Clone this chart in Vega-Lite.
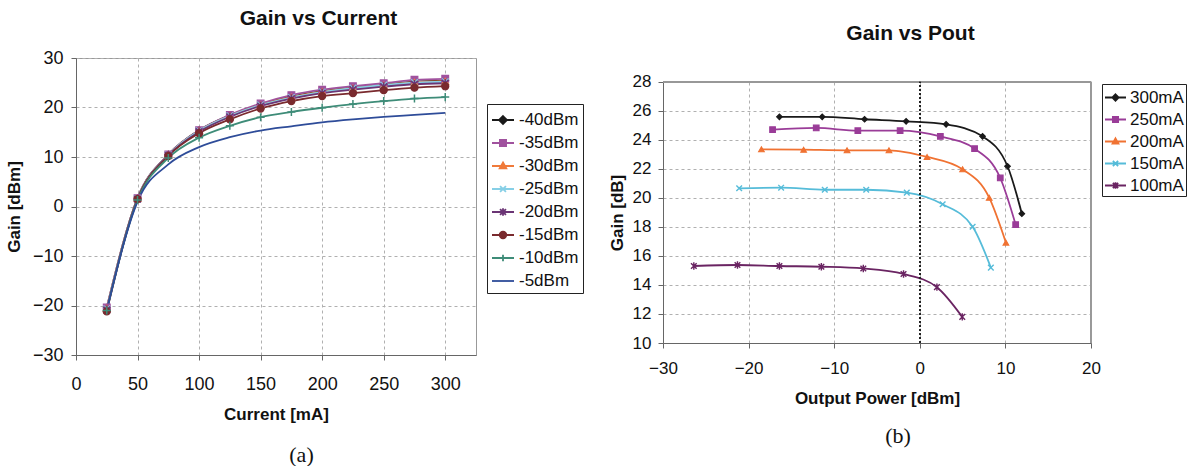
{
  "$schema": "https://vega.github.io/schema/vega-lite/v6.json",
  "background": "white",
  "padding": {"left": 4, "top": 7, "right": 0, "bottom": 0},
  "spacing": 24,
  "resolve": {"scale": {"color": "independent"}, "legend": {"color": "independent"}},
  "config": {
    "font": "Liberation Sans",
    "view": {"stroke": "#999", "strokeWidth": 1},
    "axis": {
      "labelFont": "Liberation Sans", "labelFontSize": 18, "labelColor": "#111", "labelFlush": false, "labelOverlap": false,
      "titleFont": "Liberation Sans", "titleFontSize": 17, "titleFontWeight": "bold", "titleColor": "#111",
      "gridColor": "#b0b0b0", "gridDash": [3, 3], "gridWidth": 1,
      "domainColor": "#666", "tickColor": "#666", "tickSize": 5
    },
    "legend": {"labelFont": "Liberation Sans", "labelFontSize": 17, "labelColor": "#111"}
  },
  "datasets": {
    "gvc": [
      {"current": 25, "series": "-40dBm", "gain": -20.5}, {"current": 50, "series": "-40dBm", "gain": 1.7}, {"current": 75, "series": "-40dBm", "gain": 10.5}, {"current": 100, "series": "-40dBm", "gain": 15.4}, {"current": 125, "series": "-40dBm", "gain": 18.4}, {"current": 150, "series": "-40dBm", "gain": 20.6}, {"current": 175, "series": "-40dBm", "gain": 22.2}, {"current": 200, "series": "-40dBm", "gain": 23.3}, {"current": 225, "series": "-40dBm", "gain": 24.0}, {"current": 250, "series": "-40dBm", "gain": 24.6}, {"current": 275, "series": "-40dBm", "gain": 25.2}, {"current": 300, "series": "-40dBm", "gain": 25.4},
      {"current": 25, "series": "-35dBm", "gain": -20.4}, {"current": 50, "series": "-35dBm", "gain": 1.7}, {"current": 75, "series": "-35dBm", "gain": 10.5}, {"current": 100, "series": "-35dBm", "gain": 15.4}, {"current": 125, "series": "-35dBm", "gain": 18.5}, {"current": 150, "series": "-35dBm", "gain": 20.8}, {"current": 175, "series": "-35dBm", "gain": 22.5}, {"current": 200, "series": "-35dBm", "gain": 23.6}, {"current": 225, "series": "-35dBm", "gain": 24.3}, {"current": 250, "series": "-35dBm", "gain": 24.9}, {"current": 275, "series": "-35dBm", "gain": 25.6}, {"current": 300, "series": "-35dBm", "gain": 25.8},
      {"current": 25, "series": "-30dBm", "gain": -20.6}, {"current": 50, "series": "-30dBm", "gain": 1.6}, {"current": 75, "series": "-30dBm", "gain": 10.4}, {"current": 100, "series": "-30dBm", "gain": 15.3}, {"current": 125, "series": "-30dBm", "gain": 18.3}, {"current": 150, "series": "-30dBm", "gain": 20.5}, {"current": 175, "series": "-30dBm", "gain": 22.1}, {"current": 200, "series": "-30dBm", "gain": 23.2}, {"current": 225, "series": "-30dBm", "gain": 23.9}, {"current": 250, "series": "-30dBm", "gain": 24.5}, {"current": 275, "series": "-30dBm", "gain": 25.1}, {"current": 300, "series": "-30dBm", "gain": 25.3},
      {"current": 25, "series": "-25dBm", "gain": -20.7}, {"current": 50, "series": "-25dBm", "gain": 1.6}, {"current": 75, "series": "-25dBm", "gain": 10.4}, {"current": 100, "series": "-25dBm", "gain": 15.3}, {"current": 125, "series": "-25dBm", "gain": 18.3}, {"current": 150, "series": "-25dBm", "gain": 20.5}, {"current": 175, "series": "-25dBm", "gain": 22.0}, {"current": 200, "series": "-25dBm", "gain": 23.1}, {"current": 225, "series": "-25dBm", "gain": 23.9}, {"current": 250, "series": "-25dBm", "gain": 24.5}, {"current": 275, "series": "-25dBm", "gain": 25.0}, {"current": 300, "series": "-25dBm", "gain": 25.2},
      {"current": 25, "series": "-20dBm", "gain": -20.9}, {"current": 50, "series": "-20dBm", "gain": 1.5}, {"current": 75, "series": "-20dBm", "gain": 10.3}, {"current": 100, "series": "-20dBm", "gain": 15.1}, {"current": 125, "series": "-20dBm", "gain": 18.1}, {"current": 150, "series": "-20dBm", "gain": 20.3}, {"current": 175, "series": "-20dBm", "gain": 21.8}, {"current": 200, "series": "-20dBm", "gain": 22.9}, {"current": 225, "series": "-20dBm", "gain": 23.6}, {"current": 250, "series": "-20dBm", "gain": 24.2}, {"current": 275, "series": "-20dBm", "gain": 24.7}, {"current": 300, "series": "-20dBm", "gain": 24.9},
      {"current": 25, "series": "-15dBm", "gain": -21.2}, {"current": 50, "series": "-15dBm", "gain": 1.5}, {"current": 75, "series": "-15dBm", "gain": 10.2}, {"current": 100, "series": "-15dBm", "gain": 14.8}, {"current": 125, "series": "-15dBm", "gain": 17.6}, {"current": 150, "series": "-15dBm", "gain": 19.8}, {"current": 175, "series": "-15dBm", "gain": 21.3}, {"current": 200, "series": "-15dBm", "gain": 22.3}, {"current": 225, "series": "-15dBm", "gain": 22.9}, {"current": 250, "series": "-15dBm", "gain": 23.5}, {"current": 275, "series": "-15dBm", "gain": 24.0}, {"current": 300, "series": "-15dBm", "gain": 24.3},
      {"current": 25, "series": "-10dBm", "gain": -21.0}, {"current": 50, "series": "-10dBm", "gain": 1.3}, {"current": 75, "series": "-10dBm", "gain": 9.8}, {"current": 100, "series": "-10dBm", "gain": 13.9}, {"current": 125, "series": "-10dBm", "gain": 16.3}, {"current": 150, "series": "-10dBm", "gain": 18.05}, {"current": 175, "series": "-10dBm", "gain": 19.1}, {"current": 200, "series": "-10dBm", "gain": 19.95}, {"current": 225, "series": "-10dBm", "gain": 20.7}, {"current": 250, "series": "-10dBm", "gain": 21.3}, {"current": 275, "series": "-10dBm", "gain": 21.8}, {"current": 300, "series": "-10dBm", "gain": 22.1},
      {"current": 25, "series": "-5dBm", "gain": -21.0}, {"current": 50, "series": "-5dBm", "gain": 1.0}, {"current": 75, "series": "-5dBm", "gain": 8.5}, {"current": 100, "series": "-5dBm", "gain": 12.0}, {"current": 125, "series": "-5dBm", "gain": 14.0}, {"current": 150, "series": "-5dBm", "gain": 15.35}, {"current": 175, "series": "-5dBm", "gain": 16.2}, {"current": 200, "series": "-5dBm", "gain": 17.0}, {"current": 225, "series": "-5dBm", "gain": 17.6}, {"current": 250, "series": "-5dBm", "gain": 18.1}, {"current": 275, "series": "-5dBm", "gain": 18.5}, {"current": 300, "series": "-5dBm", "gain": 18.9}
    ],
    "gvp": [
      {"pout": -16.4, "series": "300mA", "gain": 25.6}, {"pout": -11.4, "series": "300mA", "gain": 25.6}, {"pout": -6.45, "series": "300mA", "gain": 25.43}, {"pout": -1.6, "series": "300mA", "gain": 25.29}, {"pout": 3.07, "series": "300mA", "gain": 25.08}, {"pout": 7.33, "series": "300mA", "gain": 24.25}, {"pout": 10.25, "series": "300mA", "gain": 22.19}, {"pout": 11.92, "series": "300mA", "gain": 18.92},
      {"pout": -17.2, "series": "250mA", "gain": 24.71}, {"pout": -12.1, "series": "250mA", "gain": 24.83}, {"pout": -7.24, "series": "250mA", "gain": 24.64}, {"pout": -2.3, "series": "250mA", "gain": 24.64}, {"pout": 2.4, "series": "250mA", "gain": 24.25}, {"pout": 6.4, "series": "250mA", "gain": 23.4}, {"pout": 9.4, "series": "250mA", "gain": 21.38}, {"pout": 11.2, "series": "250mA", "gain": 18.16},
      {"pout": -18.5, "series": "200mA", "gain": 23.36}, {"pout": -13.57, "series": "200mA", "gain": 23.33}, {"pout": -8.5, "series": "200mA", "gain": 23.29}, {"pout": -3.6, "series": "200mA", "gain": 23.29}, {"pout": 0.85, "series": "200mA", "gain": 22.83}, {"pout": 5.0, "series": "200mA", "gain": 21.98}, {"pout": 8.11, "series": "200mA", "gain": 20.02}, {"pout": 10.06, "series": "200mA", "gain": 16.92},
      {"pout": -21.1, "series": "150mA", "gain": 20.67}, {"pout": -16.2, "series": "150mA", "gain": 20.71}, {"pout": -11.1, "series": "150mA", "gain": 20.57}, {"pout": -6.26, "series": "150mA", "gain": 20.57}, {"pout": -1.52, "series": "150mA", "gain": 20.37}, {"pout": 2.67, "series": "150mA", "gain": 19.57}, {"pout": 6.17, "series": "150mA", "gain": 18.02}, {"pout": 8.3, "series": "150mA", "gain": 15.2},
      {"pout": -26.4, "series": "100mA", "gain": 15.31}, {"pout": -21.3, "series": "100mA", "gain": 15.38}, {"pout": -16.4, "series": "100mA", "gain": 15.31}, {"pout": -11.5, "series": "100mA", "gain": 15.26}, {"pout": -6.6, "series": "100mA", "gain": 15.14}, {"pout": -1.9, "series": "100mA", "gain": 14.76}, {"pout": 2.0, "series": "100mA", "gain": 13.85}, {"pout": 4.96, "series": "100mA", "gain": 11.8}
    ]
  },
  "hconcat": [
    {
      "width": 400,
      "height": 297,
      "data": {"name": "gvc"},
      "resolve": {"scale": {"x": "independent", "y": "independent"}},
      "layer": [
        {
          "layer": [
            {
              "mark": {"type": "line", "interpolate": "monotone", "strokeWidth": 1.8},
              "encoding": {
                "x": {"field": "current", "type": "quantitative", "scale": {"domain": [0, 325], "nice": false}, "axis": {"values": [0, 50, 100, 150, 200, 250, 300], "title": "Current [mA]", "labelPadding": 15, "titleY": 59, "titleBaseline": "middle"}},
                "y": {"field": "gain", "type": "quantitative", "scale": {"domain": [-30, 30], "nice": false}, "axis": {"values": [-30, -20, -10, 0, 10, 20, 30], "title": "Gain [dBm]", "labelPadding": 8, "titleX": -62, "titleBaseline": "middle"}},
                "color": {
                  "field": "series", "type": "nominal",
                  "scale": {"domain": ["-40dBm", "-35dBm", "-30dBm", "-25dBm", "-20dBm", "-15dBm", "-10dBm", "-5dBm"], "range": ["#1a1a1a", "#a0529e", "#f07a3a", "#86cfe6", "#6b3575", "#7a2a2e", "#3e8c78", "#2e4c99"]},
                  "legend": {
                    "title": null, "orient": "none", "legendX": 411, "legendY": 46,
                    "strokeColor": "#222", "fillColor": "white", "padding": 4,
                    "symbolSize": 484, "labelOffset": 4, "rowPadding": 3,
                    "encode": {"symbols": {"update": {
                      "shape": {"signal": "{'-40dBm':'M-1,0L1,0M0,-0.36L0.36,0L0,0.36L-0.36,0Z','-35dBm':'M-1,0L1,0M-0.28,-0.28L0.28,-0.28L0.28,0.28L-0.28,0.28Z','-30dBm':'M-1,0L1,0M0,-0.32L0.3,0.22L-0.3,0.22Z','-25dBm':'M-1,0L1,0M-0.27,-0.27L0.27,0.27M-0.27,0.27L0.27,-0.27','-20dBm':'M-1,0L1,0M-0.27,-0.27L0.27,0.27M-0.27,0.27L0.27,-0.27M0,-0.33L0,0.33','-15dBm':'M-1,0L1,0M-0.3,0A0.3,0.3 0 1,0 0.3,0A0.3,0.3 0 1,0 -0.3,0Z','-10dBm':'M-1,0L1,0M0,-0.3L0,0.3','-5dBm':'M-1,0L1,0'}[datum.value]"},
                      "stroke": {"signal": "{'-40dBm':'#1a1a1a','-35dBm':'#a0529e','-30dBm':'#f07a3a','-25dBm':'#86cfe6','-20dBm':'#6b3575','-15dBm':'#7a2a2e','-10dBm':'#3e8c78','-5dBm':'#2e4c99'}[datum.value]"},
                      "fill": {"signal": "{'-40dBm':'#1a1a1a','-35dBm':'#a0529e','-30dBm':'#f07a3a','-25dBm':'#86cfe6','-20dBm':'#6b3575','-15dBm':'#7a2a2e','-10dBm':'#3e8c78','-5dBm':'#2e4c99'}[datum.value]"},
                      "size": {"value": 484},
                      "strokeWidth": {"value": 1.8},
                      "opacity": {"value": 1},
                      "fillOpacity": {"value": 1},
                      "strokeOpacity": {"value": 1}
                    }}}
                  }
                }
              }
            },
            {"transform": [{"filter": "datum.series == '-40dBm'"}], "mark": {"type": "point", "shape": "diamond", "filled": true, "color": "#1a1a1a", "stroke": "#1a1a1a", "strokeWidth": 1.2, "size": 45, "opacity": 1}, "encoding": {"x": {"field": "current", "type": "quantitative"}, "y": {"field": "gain", "type": "quantitative"}}},
            {"transform": [{"filter": "datum.series == '-35dBm'"}], "mark": {"type": "point", "shape": "square", "filled": true, "color": "#a0529e", "stroke": "#a0529e", "strokeWidth": 1.2, "size": 45, "opacity": 1}, "encoding": {"x": {"field": "current", "type": "quantitative"}, "y": {"field": "gain", "type": "quantitative"}}},
            {"transform": [{"filter": "datum.series == '-30dBm'"}], "mark": {"type": "point", "shape": "triangle-up", "filled": true, "color": "#f07a3a", "stroke": "#f07a3a", "strokeWidth": 1.2, "size": 45, "opacity": 1}, "encoding": {"x": {"field": "current", "type": "quantitative"}, "y": {"field": "gain", "type": "quantitative"}}},
            {"transform": [{"filter": "datum.series == '-25dBm'"}], "mark": {"type": "point", "shape": "M-1,-1L1,1M-1,1L1,-1", "filled": true, "color": "#86cfe6", "stroke": "#86cfe6", "strokeWidth": 1.5, "size": 45, "opacity": 1}, "encoding": {"x": {"field": "current", "type": "quantitative"}, "y": {"field": "gain", "type": "quantitative"}}},
            {"transform": [{"filter": "datum.series == '-20dBm'"}], "mark": {"type": "point", "shape": "M-1,-1L1,1M-1,1L1,-1M0,-1.3L0,1.3", "filled": true, "color": "#6b3575", "stroke": "#6b3575", "strokeWidth": 1.5, "size": 45, "opacity": 1}, "encoding": {"x": {"field": "current", "type": "quantitative"}, "y": {"field": "gain", "type": "quantitative"}}},
            {"transform": [{"filter": "datum.series == '-15dBm'"}], "mark": {"type": "point", "shape": "circle", "filled": true, "color": "#7a2a2e", "stroke": "#7a2a2e", "strokeWidth": 1.2, "size": 50, "opacity": 1}, "encoding": {"x": {"field": "current", "type": "quantitative"}, "y": {"field": "gain", "type": "quantitative"}}},
            {"transform": [{"filter": "datum.series == '-10dBm'"}], "mark": {"type": "point", "shape": "M-1.2,0L1.2,0M0,-1.2L0,1.2", "filled": true, "color": "#3e8c78", "stroke": "#3e8c78", "strokeWidth": 1.5, "size": 45, "opacity": 1}, "encoding": {"x": {"field": "current", "type": "quantitative"}, "y": {"field": "gain", "type": "quantitative"}}}
          ]
        },
        {
          "mark": {"type": "point", "opacity": 0},
          "encoding": {
            "x": {"field": "current", "type": "quantitative", "scale": {"domain": [0, 325], "nice": false}, "axis": {"orient": "top", "domain": false, "ticks": false, "labels": false, "grid": false, "title": "Gain vs Current", "titleX": 242, "titleY": -39.5, "titleAlign": "center", "titleBaseline": "middle", "titleFontSize": 21, "titleAngle": 0}},
            "y": {"field": "gain", "type": "quantitative", "scale": {"domain": [-30, 30], "nice": false}, "axis": {"orient": "right", "domain": false, "ticks": false, "labels": false, "grid": false, "title": "(a)", "titleX": -175, "titleY": 396, "titleAlign": "center", "titleBaseline": "middle", "titleAngle": 0, "titleFont": "Liberation Serif", "titleFontSize": 22, "titleFontWeight": "normal"}}
          }
        }
      ]
    },
    {
      "width": 428,
      "height": 285,
      "view": {"stroke": null},
      "title": {"text": "(b)", "orient": "bottom", "font": "Liberation Serif", "fontSize": 22, "fontWeight": "normal", "color": "#111", "anchor": "middle", "frame": "group", "dx": 21, "offset": 20},
      "data": {"name": "gvp"},
      "resolve": {"scale": {"x": "independent"}},
      "layer": [
        {
          "layer": [
            {
              "mark": {"type": "line", "interpolate": "monotone", "strokeWidth": 1.8},
              "encoding": {
                "x": {"field": "pout", "type": "quantitative", "scale": {"domain": [-30, 20], "nice": false}, "axis": {"values": [-30, -20, -10, 0, 10, 20], "title": "Output Power [dBm]", "labelPadding": 12, "labelFontSize": 17, "titleY": 55, "titleBaseline": "middle"}},
                "y": {"field": "gain", "type": "quantitative", "scale": {"domain": [10, 29.655], "nice": false, "zero": false}, "axis": {"tickCount": 10, "labelOverlap": false, "title": "Gain [dB]", "labelPadding": 7, "labelFontSize": 17, "titleX": -46, "titleY": 154.5, "titleBaseline": "middle"}},
                "color": {
                  "field": "series", "type": "nominal",
                  "scale": {"domain": ["300mA", "250mA", "200mA", "150mA", "100mA"], "range": ["#1a1a1a", "#9a3c98", "#f07232", "#56bcd9", "#6a2462"]},
                  "legend": {
                    "title": null, "orient": "none", "legendX": 439, "legendY": 26,
                    "strokeColor": "#222", "fillColor": "white", "padding": 2,
                    "symbolSize": 441, "labelOffset": 3, "rowPadding": 2,
                    "encode": {"symbols": {"update": {
                      "shape": {"signal": "{'300mA':'M-1,0L1,0M0,-0.3L0.3,0L0,0.3L-0.3,0Z','250mA':'M-1,0L1,0M-0.25,-0.25L0.25,-0.25L0.25,0.25L-0.25,0.25Z','200mA':'M-1,0L1,0M0,-0.3L0.28,0.2L-0.28,0.2Z','150mA':'M-1,0L1,0M-0.25,-0.25L0.25,0.25M-0.25,0.25L0.25,-0.25','100mA':'M-1,0L1,0M-0.25,-0.25L0.25,0.25M-0.25,0.25L0.25,-0.25M0,-0.3L0,0.3'}[datum.value]"},
                      "stroke": {"signal": "{'300mA':'#1a1a1a','250mA':'#9a3c98','200mA':'#f07232','150mA':'#56bcd9','100mA':'#6a2462'}[datum.value]"},
                      "fill": {"signal": "{'300mA':'#1a1a1a','250mA':'#9a3c98','200mA':'#f07232','150mA':'#56bcd9','100mA':'#6a2462'}[datum.value]"},
                      "size": {"value": 441},
                      "strokeWidth": {"value": 1.8},
                      "opacity": {"value": 1},
                      "fillOpacity": {"value": 1},
                      "strokeOpacity": {"value": 1}
                    }}}
                  }
                }
              }
            },
            {
              "mark": {"type": "rect", "color": "white", "opacity": 1, "clip": false},
              "encoding": {"x": {"datum": -30.3, "type": "quantitative"}, "x2": {"datum": 20.3}, "y": {"datum": 28, "type": "quantitative"}, "y2": {"datum": 29.655}}
            },
            {
              "mark": {"type": "rule", "color": "#999", "strokeWidth": 1},
              "encoding": {"y": {"datum": 28, "type": "quantitative"}}
            },
            {
              "mark": {"type": "rule", "color": "#999", "strokeWidth": 1},
              "encoding": {"x": {"datum": 20, "type": "quantitative"}, "y": {"datum": 10, "type": "quantitative"}, "y2": {"datum": 28}}
            },
            {
              "mark": {"type": "rule", "strokeDash": [2, 2], "color": "#222", "strokeWidth": 1},
              "encoding": {"x": {"datum": 0, "type": "quantitative"}, "y": {"datum": 10, "type": "quantitative"}, "y2": {"datum": 28}}
            },
            {"transform": [{"filter": "datum.series == '300mA'"}], "mark": {"type": "point", "shape": "diamond", "filled": true, "color": "#1a1a1a", "stroke": "#1a1a1a", "strokeWidth": 1.1, "size": 32, "opacity": 1}, "encoding": {"x": {"field": "pout", "type": "quantitative"}, "y": {"field": "gain", "type": "quantitative"}}},
            {"transform": [{"filter": "datum.series == '250mA'"}], "mark": {"type": "point", "shape": "square", "filled": true, "color": "#9a3c98", "stroke": "#9a3c98", "strokeWidth": 1.1, "size": 32, "opacity": 1}, "encoding": {"x": {"field": "pout", "type": "quantitative"}, "y": {"field": "gain", "type": "quantitative"}}},
            {"transform": [{"filter": "datum.series == '200mA'"}], "mark": {"type": "point", "shape": "triangle-up", "filled": true, "color": "#f07232", "stroke": "#f07232", "strokeWidth": 1.1, "size": 32, "opacity": 1}, "encoding": {"x": {"field": "pout", "type": "quantitative"}, "y": {"field": "gain", "type": "quantitative"}}},
            {"transform": [{"filter": "datum.series == '150mA'"}], "mark": {"type": "point", "shape": "M-1,-1L1,1M-1,1L1,-1", "filled": true, "color": "#56bcd9", "stroke": "#56bcd9", "strokeWidth": 1.4, "size": 32, "opacity": 1}, "encoding": {"x": {"field": "pout", "type": "quantitative"}, "y": {"field": "gain", "type": "quantitative"}}},
            {"transform": [{"filter": "datum.series == '100mA'"}], "mark": {"type": "point", "shape": "M-1,-1L1,1M-1,1L1,-1M0,-1.3L0,1.3", "filled": true, "color": "#6a2462", "stroke": "#6a2462", "strokeWidth": 1.4, "size": 32, "opacity": 1}, "encoding": {"x": {"field": "pout", "type": "quantitative"}, "y": {"field": "gain", "type": "quantitative"}}}
          ]
        },
        {
          "mark": {"type": "point", "opacity": 0},
          "encoding": {
            "x": {"field": "pout", "type": "quantitative", "scale": {"domain": [-30, 20], "nice": false}, "axis": {"orient": "top", "domain": false, "ticks": false, "labels": false, "grid": false, "title": "Gain vs Pout", "titleX": 247, "titleY": -24.5, "titleAlign": "center", "titleBaseline": "middle", "titleFontSize": 21, "titleAngle": 0}},
            "y": {"field": "gain", "type": "quantitative"}
          }
        }
      ]
    }
  ]
}
